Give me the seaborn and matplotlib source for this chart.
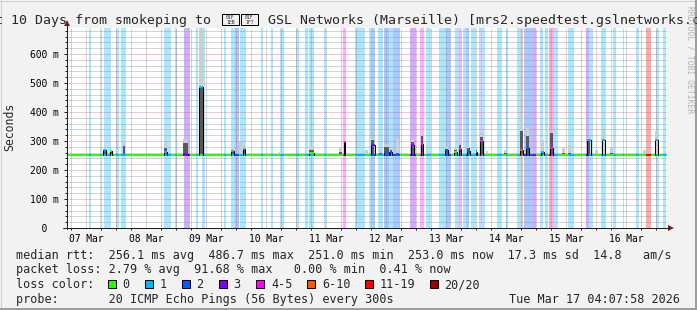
import numpy as np
import pandas as pd
import matplotlib
matplotlib.use("Agg")
import matplotlib.pyplot as plt
import matplotlib.colors as mcolors
from matplotlib.lines import Line2D
from matplotlib.patches import Rectangle, Polygon
import seaborn as sns

# ---------------- data ----------------
title_left = "Last 10 Days from smokeping to"
# the two regional-indicator characters (U+1F1EB U+1F1F7) have no installed glyph;
# the reference shows them as hex boxes, drawn here as shapes
title_flag_hex = [("01F", "1EB"), ("01F", "1F7")]
title_right = "GSL Networks (Marseille) [mrs2.speedtest.gslnetworks.com]"
y_label = "Seconds"
watermark = "RRDTOOL / TOBI OETIKER"

days_span = 10.0          # days shown
first_midnight = 0.817    # days from graph start to 08 Mar 00:00
y_top_ms = 690.0
y_major_ms = [0, 100, 200, 300, 400, 500, 600]
y_major_labels = ["  0", "100 m", "200 m", "300 m", "400 m", "500 m", "600 m"]
x_day_labels = ["07 Mar", "08 Mar", "09 Mar", "10 Mar", "11 Mar",
                "12 Mar", "13 Mar", "14 Mar", "15 Mar", "16 Mar"]

# median rtt baseline (ms), piecewise constant
base_day = [0.0, 2.65, 10.0]
base_ms = [251.0, 253.5, 253.5]

loss_labels = ["0", "1", "2", "3", "4-5", "6-10", "11-19", "20/20"]
loss_colors = ["#26ff00", "#00b8ff", "#0059ff", "#7e00ff",
               "#ff00ff", "#ff5500", "#ff0000", "#a00000"]

# packet-loss periods (days from start) and loss class index
band_start = [0.367, 0.550, 0.617, 0.817, 0.900, 1.617, 1.800, 1.950, 2.033, 2.150,
              2.250, 2.617, 2.733, 2.800, 2.883, 3.233, 3.400, 3.550, 3.817, 3.967,
              4.033, 4.283, 4.600, 4.800, 5.033, 5.083, 5.183, 5.283, 5.367, 5.433,
              5.717, 5.883, 5.983, 6.200, 6.317, 6.467, 6.533, 6.600, 6.650, 6.733,
              6.867, 6.900, 6.917, 7.167, 7.317, 7.500, 7.567, 7.617, 7.767, 7.883,
              7.967, 8.033, 8.067, 8.117, 8.350, 8.650, 8.700, 8.900, 9.100, 9.267,
              9.483, 9.650, 9.817, 9.933]
band_end = [0.400, 0.567, 0.733, 0.867, 0.983, 1.733, 1.833, 2.033, 2.050, 2.183,
            2.300, 2.650, 2.800, 2.867, 2.983, 3.267, 3.433, 3.617, 3.867, 4.017,
            4.117, 4.317, 4.650, 4.967, 5.083, 5.133, 5.267, 5.367, 5.433, 5.550,
            5.817, 5.950, 6.067, 6.317, 6.400, 6.533, 6.567, 6.650, 6.700, 6.817,
            6.900, 6.917, 6.967, 7.250, 7.350, 7.567, 7.600, 7.767, 7.817, 7.933,
            8.017, 8.067, 8.117, 8.183, 8.450, 8.700, 8.767, 8.983, 9.150, 9.283,
            9.533, 9.733, 9.867, 9.983]
band_loss = [1, 1, 1, 1, 1, 1, 1, 3, 2, 1,
             1, 1, 1, 2, 1, 1, 1, 1, 1, 1,
             1, 1, 4, 1, 1, 2, 1, 2, 1, 2,
             3, 4, 1, 1, 2, 1, 4, 1, 2, 1,
             1, 4, 1, 1, 1, 1, 5, 2, 3, 1,
             1, 6, 4, 1, 1, 3, 1, 1, 1, 1,
             1, 6, 1, 1]

# latency excursions: time, duration (days), median (ms, nan = none),
# loss class of the median, top of dark smoke, top of light smoke
ev_day = [0.625, 0.733, 0.958, 1.642, 1.975, 2.233, 2.758, 2.892, 2.950, 3.558,
          4.075, 4.558, 4.625, 4.992, 5.100, 5.217, 5.325, 5.400, 5.508, 5.758,
          5.917, 6.008, 6.317, 6.483, 6.558, 6.692, 6.825, 6.908, 7.000, 7.300,
          7.583, 7.667, 7.917, 8.083, 8.267, 8.383, 8.700, 8.817, 8.942, 9.083,
          9.617, 9.833]
ev_dur = [0.042, 0.033, 0.033, 0.050, 0.083, 0.067, 0.050, 0.067, 0.033, 0.050,
          0.067, 0.042, 0.025, 0.050, 0.050, 0.050, 0.083, 0.033, 0.050, 0.050,
          0.033, 0.033, 0.050, 0.050, 0.033, 0.050, 0.033, 0.050, 0.033, 0.050,
          0.050, 0.050, 0.050, 0.050, 0.050, 0.050, 0.050, 0.050, 0.050, 0.050,
          0.050, 0.050]
ev_med = [268, 265, np.nan, 262, 257, 486, 266, np.nan, 273, np.nan,
          258, np.nan, 298, np.nan, 286, np.nan, 262, 263, np.nan, 286,
          290, np.nan, 268, 262, 272, 264, 263, 301, np.nan, np.nan,
          269, 275, 263, 275, np.nan, np.nan, 305, np.nan, 303, np.nan,
          np.nan, 303]
ev_loss = [1, 0, -1, 1, 3, 1, 1, -1, 1, -1,
           0, -1, 4, -1, 3, -1, 2, 2, -1, 3,
           4, -1, 2, 0, 4, 2, 1, 4, -1, -1,
           5, 2, 1, 4, -1, -1, 1, -1, 1, -1,
           -1, 1]
ev_dark = [268, 265, 282, 275, 292, 486, 266, 255, 273, 255,
           270, 262, 298, 255, 305, 258, 280, 268, 260, 296,
           318, 255, 272, 268, 285, 275, 268, 315, 255, 258,
           335, 317, 265, 327, 258, 260, 305, 255, 255, 258,
           256, 255]
ev_hi = [272, 270, 300, 298, 307, 690, 278, 298, 285, 262,
         282, 276, 300, 268, 312, 270, 290, 275, 310, 305,
         322, 265, 278, 280, 300, 282, 272, 332, 265, 270,
         392, 345, 303, 332, 275, 285, 310, 270, 338, 275,
         270, 335]

legend_rtt = "median rtt:  256.1 ms avg  486.7 ms max  251.0 ms min  253.0 ms now  17.3 ms sd  14.8   am/s"
legend_loss = "packet loss: 2.79 % avg  91.68 % max   0.00 % min  0.41 % now"
legend_color = "loss color:"
legend_probe = "probe:       20 ICMP Echo Pings (56 Bytes) every 300s"
legend_date = "Tue Mar 17 04:07:58 2026"

# ---------------- style ----------------
W, H = 697, 310
PX = 0.72  # points per pixel at 100 dpi
MONO = ["DejaVu Sans Mono", "DejaVu Sans"]
BACK = "#f2f2f2"
GRID = (0.56, 0.56, 0.56, 0.75)
MGRID = (0.87, 0.31, 0.31, 0.60)
AXIS = "#1f1f1f"
ARROW = "#802020"

sns.set_theme(style="white")
plt.rcParams["font.family"] = MONO
plt.rcParams["axes.unicode_minus"] = False


def fx(x):
    return x / W


def fy(y):
    return 1 - y / H


def tint(c, a=0.33):
    r, g, b = mcolors.to_rgb(c)
    return (1 - a + a * r, 1 - a + a * g, 1 - a + a * b)


def base_at(t):
    i = int(np.searchsorted(base_day, t, side="right")) - 1
    i = max(0, min(i, len(base_ms) - 1))
    return base_ms[i]


fig = plt.figure(figsize=(W / 100, H / 100), dpi=100, facecolor=BACK)
ax = fig.add_axes([fx(67), fy(228), 600 / W, 200 / H])
ax.set_facecolor("white")

# loss bands
for s, e, l in zip(band_start, band_end, band_loss):
    ax.axvspan(s, e, color=tint(loss_colors[l]), lw=0, zorder=1)

# grid
dots = (0, (1, 1))
for v in range(20, int(y_top_ms), 20):
    if v % 100:
        ax.axhline(v, color=GRID, lw=PX, ls=dots, zorder=2)
for v in y_major_ms[1:]:
    ax.axhline(v, color=MGRID, lw=PX, ls=dots, zorder=2)
six_h = [first_midnight - 0.75 + 0.25 * k for k in range(44)]
six_h = [t for t in six_h if 0 < t < days_span]
for k, t in enumerate(six_h):
    frac = (t - first_midnight) % 1.0
    is_mid = min(frac, 1 - frac) < 1e-6
    ax.axvline(t, color=MGRID if is_mid else GRID, lw=PX, ls=dots, zorder=2)

# smoke
for d, w, dk, hi in zip(ev_day, ev_dur, ev_dark, ev_hi):
    b = base_at(d)
    ax.bar(d, hi - b, bottom=b, width=w, color="#cdcdcd", lw=0, zorder=3)
    if dk > b:
        ax.bar(d, dk - b, bottom=b, width=w, color="#5a5a5a", lw=0, zorder=3.1)

# median baseline via seaborn
df_base = pd.DataFrame({"day": base_day, "ms": base_ms})
sns.lineplot(data=df_base, x="day", y="ms", drawstyle="steps-post",
             color=loss_colors[0], lw=2 * PX, ax=ax, zorder=4)

# baseline coloured by loss
for s, e, l in zip(band_start, band_end, band_loss):
    b = base_at(s)
    ax.plot([s, e], [b, b], color=loss_colors[l], lw=2 * PX,
            solid_capstyle="butt", zorder=4.2)

# median excursions
for d, w, m, l in zip(ev_day, ev_dur, ev_med, ev_loss):
    if np.isnan(m):
        continue
    b = base_at(d)
    x0, x1 = d - w / 2, d + w / 2
    ax.plot([x0, x0, x1, x1], [b, m, m, b], color="black", lw=PX, zorder=4.5)
    ax.plot([x0, x1], [m, m], color=loss_colors[l], lw=2 * PX,
            solid_capstyle="butt", zorder=4.6)

ax.set_xlim(0, days_span)
ax.set_ylim(0, y_top_ms)
ax.set_xlabel("")
ax.set_ylabel("")
for sp in ax.spines.values():
    sp.set_visible(False)

# ticks and labels
noon = [first_midnight - 0.5 + k for k in range(len(x_day_labels))]
ax.set_xticks(noon, labels=x_day_labels)
ax.set_xticks(six_h, minor=True)
ax.tick_params(axis="x", which="major", length=0, pad=5.9 * PX,
               labelsize=6.9, labelcolor="black", bottom=True)
ax.tick_params(axis="x", which="minor", length=2 * PX, width=PX,
               color=AXIS, direction="out", bottom=True)
ax.set_yticks(y_major_ms, labels=y_major_labels)
ax.set_yticks([v for v in range(20, int(y_top_ms), 20) if v % 100], minor=True)
ax.tick_params(axis="y", which="major", length=3 * PX, width=PX, color=AXIS,
               direction="out", pad=34 * PX, labelsize=6.9, labelcolor="black", left=True)
ax.tick_params(axis="y", which="minor", length=2 * PX, width=PX, color=AXIS,
               direction="out", left=True)
for t in ax.get_yticklabels():
    t.set_horizontalalignment("left")
ax.grid(False)

# axes lines and arrows
fig.add_artist(Line2D([fx(67), fx(67)], [fy(229), fy(24)], color=AXIS, lw=PX))
fig.add_artist(Line2D([fx(63), fx(669)], [fy(228), fy(228)], color=AXIS, lw=PX))
fig.add_artist(Polygon([(fx(64), fy(26)), (fx(70), fy(26)), (fx(67), fy(20))],
                       closed=True, color=ARROW, lw=0))
fig.add_artist(Polygon([(fx(668), fy(225)), (fx(668), fy(231)), (fx(674), fy(228))],
                       closed=True, color=ARROW, lw=0))

# title
fig.text(fx(211), fy(24), title_left, ha="right", va="baseline", fontsize=9.5,
         family=MONO)
for i, (top, bot) in enumerate(title_flag_hex):
    bx = 222 + i * 19
    fig.add_artist(Rectangle((fx(bx), fy(25)), 17 / W, 11 / H, facecolor="none",
                             edgecolor="black", lw=PX, transform=fig.transFigure))
    fig.text(fx(bx + 8.5), fy(17.3), top, ha="center", va="center", fontsize=3.4,
             family=MONO)
    fig.text(fx(bx + 8.5), fy(22.2), bot, ha="center", va="center", fontsize=3.4,
             family=MONO)
fig.text(fx(268), fy(24), title_right, ha="left", va="baseline", fontsize=9.5,
         family=MONO)

# y label and watermark
fig.text(fx(10), fy(127), y_label, rotation=90, ha="center", va="center",
         fontsize=8.3, family=MONO)
fig.text(fx(690), fy(60), watermark, rotation=270, ha="center", va="center",
         fontsize=5.8, color="#b4b4b4", family=MONO)

# legend
LX = 15.6
rows = [258.6, 273.3, 288.0, 302.6]
fig.text(fx(LX), fy(rows[0]), legend_rtt, ha="left", va="baseline", fontsize=8.5, family=MONO)
fig.text(fx(LX), fy(rows[1]), legend_loss, ha="left", va="baseline", fontsize=8.5, family=MONO)
fig.text(fx(LX), fy(rows[2]), legend_color, ha="left", va="baseline", fontsize=8.5, family=MONO)
fig.text(fx(LX), fy(rows[3]), legend_probe, ha="left", va="baseline", fontsize=8.5, family=MONO)
fig.text(fx(680), fy(rows[3]), legend_date, ha="right", va="baseline", fontsize=8.5, family=MONO)

box_x = [108, 145, 182, 219, 256, 307, 365, 430]
lab_x = [122, 160, 196, 233, 271, 322, 380, 444]
for bx, lx, lab, col in zip(box_x, lab_x, loss_labels, loss_colors):
    fig.add_artist(Rectangle((fx(bx), fy(rows[2])), 8 / W, 8 / H, facecolor=col,
                             edgecolor="black", lw=PX, transform=fig.transFigure))
    fig.text(fx(lx), fy(rows[2]), lab, ha="left", va="baseline", fontsize=8.5, family=MONO)

# 3d frame
fig.add_artist(Line2D([0, 1], [fy(0.5), fy(0.5)], color="#cfcfcf", lw=PX))
fig.add_artist(Line2D([fx(0.5), fx(0.5)], [0, 1], color="#cfcfcf", lw=PX))
fig.add_artist(Line2D([0, 1], [fy(309), fy(309)], color="#9e9e9e", lw=2 * PX))
fig.add_artist(Line2D([fx(696), fx(696)], [0, 1], color="#9e9e9e", lw=2 * PX))

fig.savefig("out.png", dpi=100, facecolor=BACK)
